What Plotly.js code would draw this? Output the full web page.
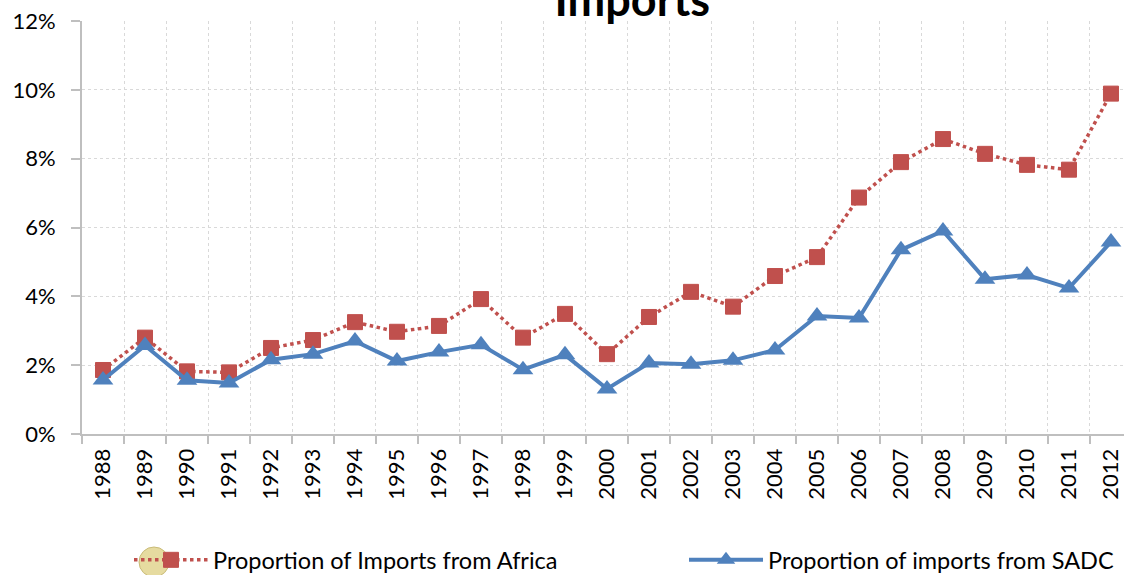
<!DOCTYPE html>
<html>
<head>
<meta charset="utf-8">
<script src="https://cdn.plot.ly/plotly-3.0.1.min.js"></script>
<style>html,body{margin:0;padding:0;background:#fff;}#chart{width:1124px;height:575px;}</style>
</head>
<body>
<div id="chart"></div>
<script>
const years = ["1988","1989","1990","1991","1992","1993","1994","1995","1996","1997","1998","1999","2000","2001","2002","2003","2004","2005","2006","2007","2008","2009","2010","2011","2012"];
const africaShare = [1.86,2.80,1.82,1.79,2.50,2.73,3.25,2.97,3.14,3.92,2.80,3.49,2.32,3.40,4.13,3.70,4.59,5.14,6.87,7.90,8.57,8.14,7.82,7.68,9.89];
const sadcShare = [1.57,2.57,1.56,1.48,2.16,2.32,2.70,2.12,2.38,2.59,1.87,2.30,1.31,2.06,2.03,2.14,2.44,3.43,3.37,5.35,5.90,4.50,4.62,4.24,5.58];
const seriesNames = ["Proportion of Imports from Africa","Proportion of imports from SADC"];
const yTicks = [0,2,4,6,8,10,12];
const yTickText = ["0%","2%","4%","6%","8%","10%","12%"];

const font = "Lato, 'Open Sans', sans-serif";
const traces = [
  {
    x: years, y: africaShare, name: seriesNames[0], type: "scatter", mode: "lines+markers",
    legend: "legend",
    line: {color: "#C0504D", width: 3.5, dash: "dot"},
    marker: {symbol: "square", size: 15, color: "#C0504D", line: {color: "#C0504D", width: 1}}
  },
  {
    x: years, y: sadcShare, name: seriesNames[1], type: "scatter", mode: "lines+markers",
    legend: "legend2",
    line: {color: "#4F81BD", width: 4},
    marker: {symbol: "triangle-up", size: 18, color: "#4F81BD"}
  }
];
const legendBase = {orientation: "h", xref: "container", yref: "container", xanchor: "left",
  y: 0.026, yanchor: "middle", itemwidth: 74, traceorder: "normal",
  font: {family: font, size: 23.5, color: "#000"}, bgcolor: "rgba(0,0,0,0)"};
const layout = {
  width: 1124, height: 575,
  margin: {l: 82, r: 0, t: 21, b: 141},
  paper_bgcolor: "#fff", plot_bgcolor: "#fff",
  font: {family: font, size: 22, color: "#000"},
  title: {text: "<b>Imports</b>", font: {family: font, size: 45, color: "#000"},
          x: 0.5625, xanchor: "center", xref: "container", y: 1, yanchor: "middle", yref: "container"},
  showlegend: true,
  legend: Object.assign({}, legendBase, {x: 129/1124}),
  legend2: Object.assign({}, legendBase, {x: 684/1124}),
  xaxis: {
    type: "category", range: [-0.5, 24.31], tickson: "boundaries",
    showgrid: true, gridcolor: "#d9d9d9", griddash: "dot", gridwidth: 1,
    showline: true, linecolor: "#bfbfbf", linewidth: 2,
    ticks: "outside", ticklen: 8, tickcolor: "#bfbfbf", tickwidth: 2,
    tickangle: -90, tickfont: {family: font, size: 22, color: "#000"}, ticklabelstandoff: 4,
    zeroline: false, fixedrange: true
  },
  yaxis: {
    range: [0, 12], tickvals: yTicks, ticktext: yTickText,
    showgrid: true, gridcolor: "#d9d9d9", griddash: "dot", gridwidth: 1,
    showline: true, linecolor: "#bfbfbf", linewidth: 2,
    ticks: "outside", ticklen: 9, tickcolor: "#bfbfbf", tickwidth: 2,
    tickfont: {family: font, size: 22, color: "#000"}, ticklabelstandoff: 11,
    zeroline: false, fixedrange: true
  },
  shapes: [
    {type: "circle", xref: "paper", yref: "paper", layer: "below",
     x0: (139-82)/1042, x1: (169-82)/1042, y0: (434-577)/413, y1: (434-547)/413,
     fillcolor: "#e6dba0", line: {color: "#c9bb78", width: 1}}
  ]
};
Plotly.newPlot("chart", traces, layout, {displayModeBar: false, staticPlot: true});
</script>
</body>
</html>
